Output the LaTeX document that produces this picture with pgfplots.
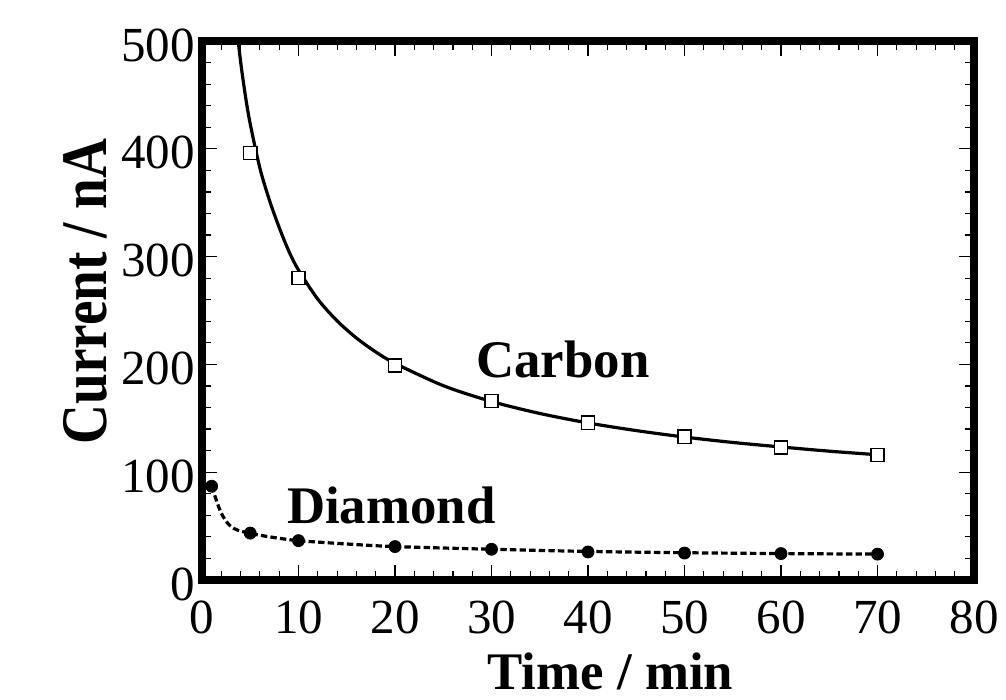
\documentclass[border=0pt]{standalone}
\usepackage{fontspec}
\setmainfont{Liberation Serif}
\usepackage{pgfplots}
\pgfplotsset{compat=1.18}

% Measured currents
\pgfplotstableread{
t    I
5    396
10   280
20   199
30   166
40   146
50   133
60   123
70   116
}\carbon
\pgfplotstableread{
t    I
1    87
5    43.5
10   36.5
20   31
30   28.5
40   26
50   25
60   24.5
70   24
}\diamond

\begin{document}
\begin{tikzpicture}
\path[use as bounding box] (-101pt,-60pt) rectangle (402pt,290pt);
\begin{axis}[
  at={(0pt,0pt)}, anchor=south west,
  scale only axis, width=386pt, height=269.5pt,
  xmin=0, xmax=80, ymin=0, ymax=500,
  xtick={0,10,...,80}, ytick={0,100,...,500},
  minor x tick num=4, minor y tick num=4,
  tick align=inside, xtick pos=both, ytick pos=both,
  xticklabel pos=lower, yticklabel pos=left,
  major tick length=7.5pt, minor tick length=4.5pt,
  every tick/.style={black, line width=0.6pt},
  axis line style={line width=3.6pt, line cap=rect},
  /pgf/number format/assume math mode=true,
  ticklabel style={font=\fontsize{24.5}{29}\selectfont},
  yticklabel style={inner sep=0pt, xshift=-3.5pt, yshift=-2pt},
  xticklabel style={inner sep=0pt, yshift=-10.5pt},
  xlabel={Time / min},
  xlabel style={at={(axis description cs:0.529,-0.204)}, anchor=base,
    font=\fontsize{26.4}{30}\selectfont\bfseries},
  ylabel={\scalebox{0.85}[1]{Current / nA}},
  ylabel style={at={(axis description cs:-0.124,0.535)}, anchor=base,
    font=\fontsize{32.5}{36}\selectfont\bfseries},
]
% fitted decay curves
\addplot[black, line width=1.6pt, smooth] coordinates {
  (3.5,520) (4,481) (4.5,449) (5,423) (6,382) (7,352) (8,327) (9,305)
  (10,287.5) (12,260.5) (14,240.4) (16,224.5) (18,211.6) (20,201)
  (25,180.3) (30,165.6) (35,154.5) (40,145.7) (45,138.6) (50,132.6)
  (55,127.6) (60,123.4) (65,119.5) (70,116.2)
};
\addplot[black, line width=1.6pt, dash pattern=on 3.2pt off 1.6pt, smooth] coordinates {
  (1,87) (1.3,79) (1.6,71) (2,62) (2.5,54.5) (3,49.5) (3.5,47) (4,45.3)
  (5,43.4) (6,41.5) (8,38.7) (10,36.5) (15,33.4) (20,31) (30,28.5)
  (40,26.5) (50,25.3) (60,24.5) (70,24)
};
% data points
\addplot[only marks, mark=square*, mark size=3.3pt,
  mark options={draw=black, fill=white, line width=0.7pt}] table[x=t,y=I] {\carbon};
\addplot[only marks, mark=*, mark size=3pt,
  mark options={draw=black, fill=black}] table[x=t,y=I] {\diamond};
\node[anchor=base west, inner sep=0pt, font=\fontsize{26.4}{30}\selectfont\bfseries]
  at (axis cs:28.4,187.4) {Carbon};
\node[anchor=base west, inner sep=0pt, font=\fontsize{26.4}{30}\selectfont\bfseries]
  at (axis cs:8.78,52.6) {Diamond};
\end{axis}
\end{tikzpicture}
\end{document}
